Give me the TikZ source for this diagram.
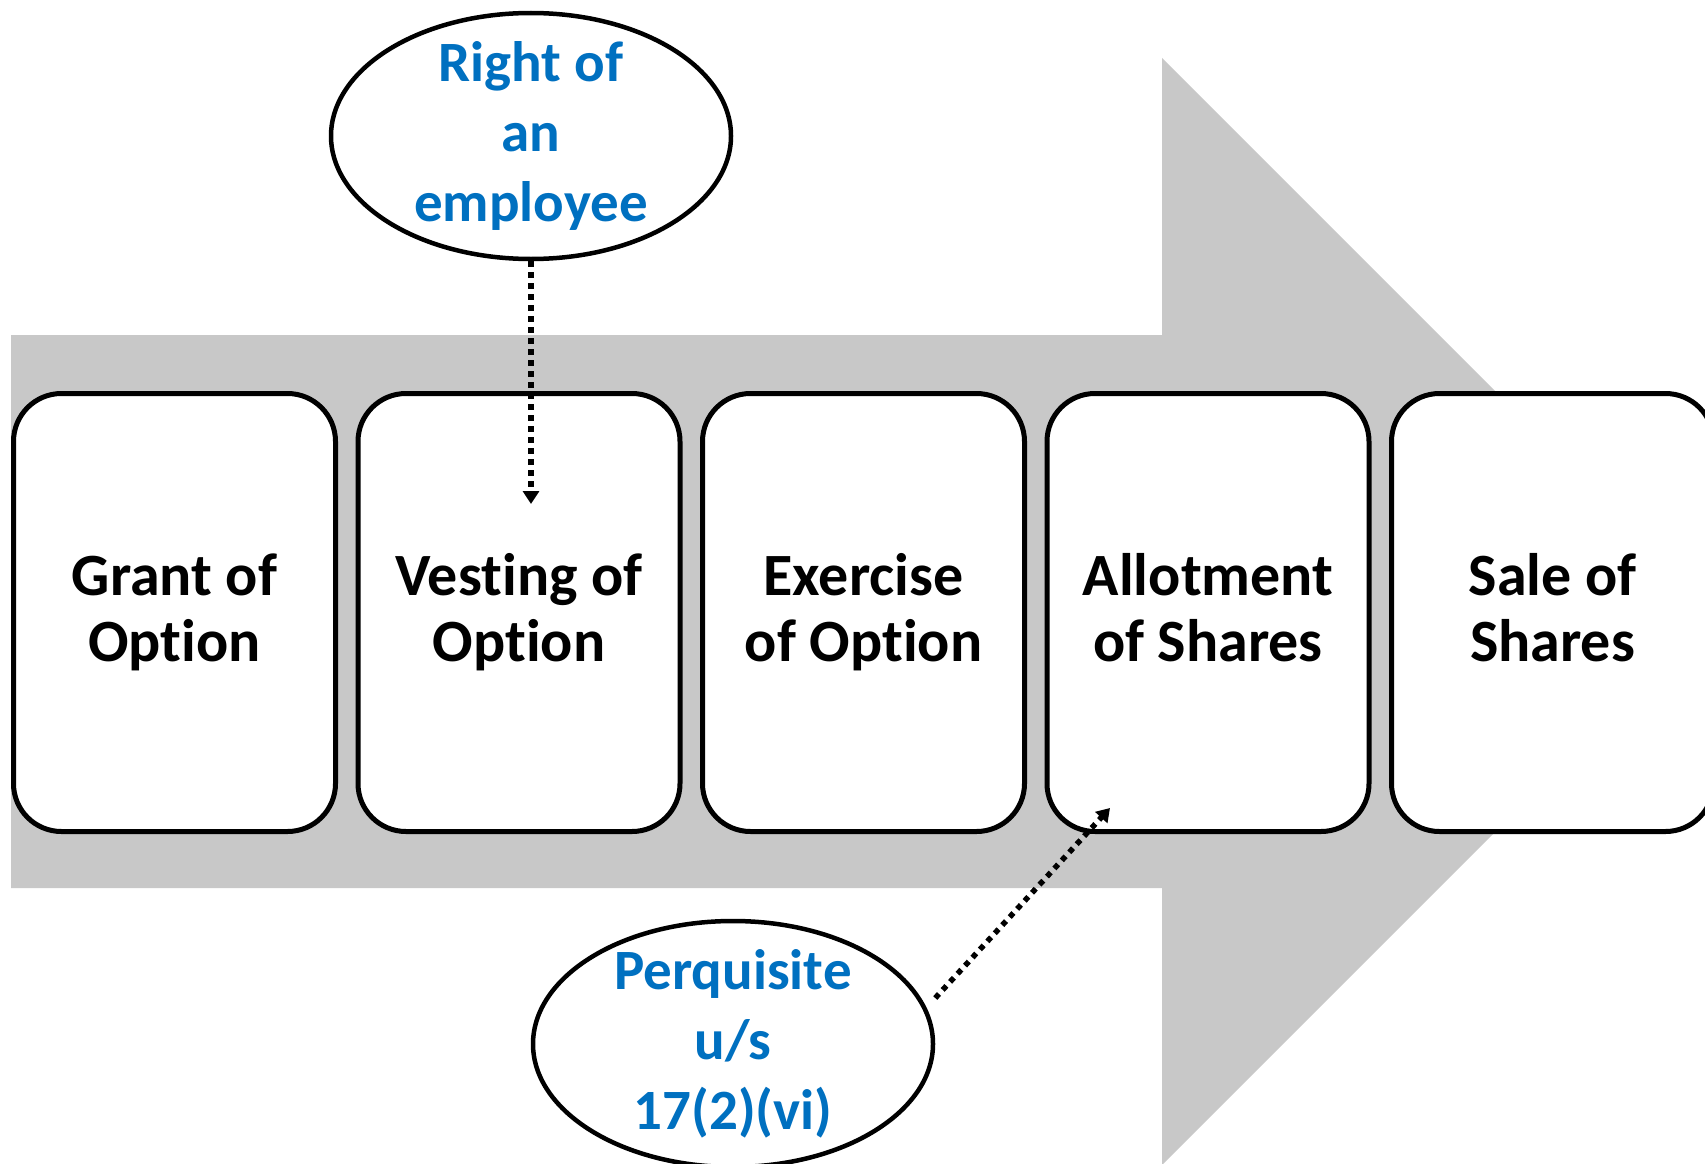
\documentclass[tikz,border=0pt]{standalone}
\usepackage{fontspec}
\setmainfont{Carlito}[Ligatures={NoCommon,NoContextual,NoRare},RawFeature={-liga;-clig;-dlig}]
\usetikzlibrary{shapes.geometric,arrows.meta}
\definecolor{bandgray}{RGB}{200,200,200}
\definecolor{noteblue}{RGB}{0,112,192}
\begin{document}
\begin{tikzpicture}[x=1pt,y=-1pt,
  stage/.style={draw=black, line width=5pt, fill=white, rounded corners=48pt,
    minimum width=322pt, minimum height=438pt, inner sep=0pt, align=center,
    font=\fontsize{60}{66}\selectfont\bfseries,
    execute at begin node=\vphantom{l}, execute at end node=\vphantom{p}},
  note/.style={ellipse, draw=black, line width=4.5pt, fill=white,
    minimum width=400pt, minimum height=246pt, inner sep=-15pt, align=center,
    text=noteblue, font=\fontsize{57}{70}\selectfont\bfseries},
  link/.style={line width=5.5pt, dash pattern=on 5.5pt off 5.5pt,
    -{Triangle[width=16pt,length=13pt]}}
]
\useasboundingbox (0,0) rectangle (1705,1164);
\clip (0,0) rectangle (1705,1164);

% background process arrow
\fill[bandgray] (11,335) -- (1162,335) -- (1162,58) -- (1715.5,611.5)
  -- (1162,1165) -- (1162,888) -- (11,888) -- cycle;

% stages
\node[stage] (grant)    at (174.5,612.5) {Grant of\\Option};
\node[stage] (vesting)  at (519,612.5)   {Vesting of\\Option};
\node[stage] (exercise) at (863.5,612.5) {Exercise\\of Option};
\node[stage] (allot)    at (1208,612.5)  {Allotment\\of Shares};
\node[stage] (sale)     at (1552.5,612.5){Sale of\\Shares};

% notes
\node[note] (right) at (531,136)  {Right of\\an\\employee};
\node[note] (perq)  at (733,1044) {Perquisite\\u/s\\17(2)(vi)};

% pointers
\coordinate (vtip) at (531,504);
\coordinate (atip) at (1110,808);
\draw[link] (right.south) -- (vtip);
\draw[link] ([yshift=46pt]perq.east) -- (atip);
\end{tikzpicture}
\end{document}
